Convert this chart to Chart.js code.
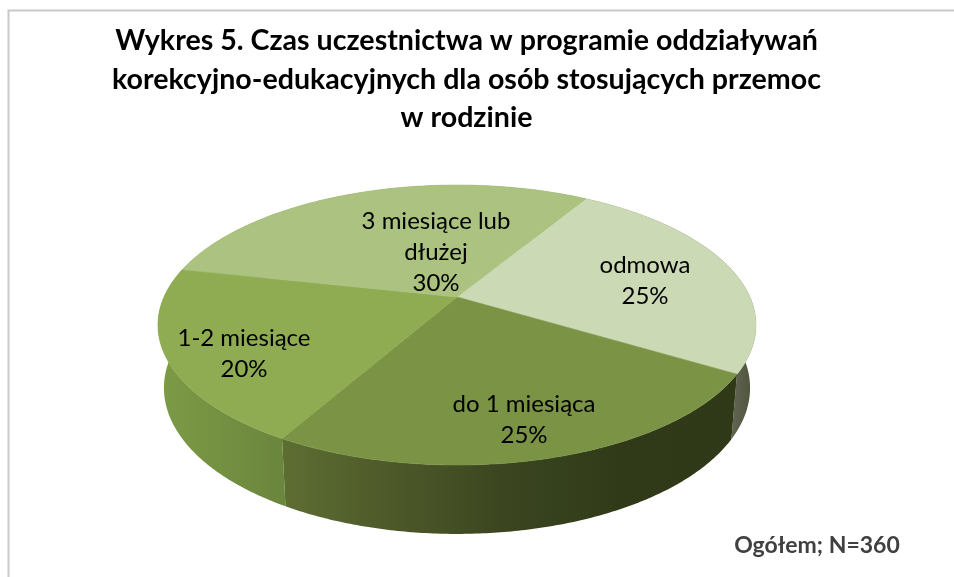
<!DOCTYPE html>
<html><head><meta charset="utf-8">
<style>html,body{margin:0;padding:0;background:#fff}canvas{display:block}</style>
<script src="https://cdn.jsdelivr.net/npm/chart.js@4"></script>
</head><body><canvas id="c" width="954" height="577"></canvas>
<script>
const categories = ['odmowa', 'do 1 miesiąca', '1-2 miesiące', '3 miesiące lub dłużej'];
const values = [25, 24.6, 20.2, 30.2];
const labelLines = [['odmowa'], ['do 1 miesiąca'], ['1-2 miesiące'], ['3 miesiące lub', 'dłużej']];
const labelAnchors = [[645, 265], [524, 404], [244, 338], [436, 221]];
const topColors = ['#cbd9b4', '#7a9344', '#8fac52', '#abc280'];
const wallStops = [
  ['#4c5138', '#636756'],
  ['#5d6e32', '#4d5829', '#3a4520', '#303a18', '#2f3918'],
  ['#7d9b46', '#6b863d'],
  ['#7d9b46', '#7d9b46']
];
const titleLines = ['Wykres 5. Czas uczestnictwa w programie oddziaływań',
  'korekcyjno-edukacyjnych dla osób stosujących przemoc', 'w rodzinie'];
const note = 'Ogółem; N=360';
const startDegrees = 31;

// perspective view of the pie disc
const view = { cx: 457, cy: 297, a: 293, b: 134.4, p: 0.2, lowerX: 0.98, lowerY: 1.043, lowerDrop: 61.7 };
function project(angle, sx, sy, dy) {
  const u = Math.cos(angle), v = Math.sin(angle), w = 1 - view.p * v;
  return [view.cx + sx * view.a * u / w, view.cy + dy + sy * view.b * v / w];
}
function edge(ctx, from, to, sx, sy, dy) {
  const n = Math.max(2, Math.ceil(Math.abs(to - from) / 0.01));
  for (let i = 0; i <= n; i++) {
    const p = project(from + (to - from) * i / n, sx, sy, dy);
    ctx.lineTo(p[0], p[1]);
  }
}
const pie3d = {
  id: 'pie3d',
  beforeDraw(chart) {
    const ctx = chart.ctx;
    ctx.save();
    ctx.strokeStyle = '#c9c9c9';
    ctx.lineWidth = 2;
    ctx.beginPath();
    ctx.moveTo(8.5, 577); ctx.lineTo(8.5, 10.5); ctx.lineTo(954, 10.5);
    ctx.stroke();
    ctx.restore();
  },
  beforeDatasetDraw(chart, args) {
    const ctx = chart.ctx;
    const arcs = chart.getDatasetMeta(args.index).data;
    ctx.save();
    // side wall, furthest parts first
    [3, 0, 2, 1].forEach(i => {
      const s = arcs[i].startAngle, e = arcs[i].endAngle;
      const xs = [];
      for (let k = 0; k <= 100; k++) {
        const t = s + (e - s) * k / 100;
        if (Math.sin(t) > -0.25) xs.push(project(t, 1, 1, 0)[0]);
      }
      const g = ctx.createLinearGradient(Math.min(...xs), 0, Math.max(...xs), 0);
      const stops = wallStops[i];
      const ordered = i === 0 ? stops.slice().reverse() : stops;
      ordered.forEach((c, k) => g.addColorStop(k / (ordered.length - 1), c));
      ctx.fillStyle = g;
      ctx.beginPath();
      edge(ctx, s, e, 1, 1, 0);
      edge(ctx, e, s, view.lowerX, view.lowerY, view.lowerDrop);
      ctx.closePath();
      ctx.fill();
    });
    // top face
    arcs.forEach((arc, i) => {
      ctx.fillStyle = ctx.strokeStyle = arc.options.backgroundColor;
      ctx.lineWidth = 0.6;
      ctx.beginPath();
      ctx.moveTo(view.cx, view.cy);
      edge(ctx, arc.startAngle, arc.endAngle, 1, 1, 0);
      ctx.closePath();
      ctx.fill();
      ctx.stroke();
    });
    ctx.restore();
    return false;
  },
  afterDraw(chart) {
    const ctx = chart.ctx;
    const total = values.reduce((a, b) => a + b, 0);
    ctx.save();
    ctx.textAlign = 'center';
    ctx.textBaseline = 'middle';
    ctx.fillStyle = '#000';
    ctx.font = '24px Lato';
    labelLines.forEach((lines, i) => {
      const all = lines.concat([Math.round(values[i] / total * 100) + '%']);
      all.forEach((t, k) => ctx.fillText(t, labelAnchors[i][0], labelAnchors[i][1] + k * 31));
    });
    ctx.fillStyle = '#404040';
    ctx.font = 'bold 23px Lato';
    ctx.fillText(note, 817, 546);
    ctx.restore();
  }
};
new Chart(document.getElementById('c'), {
  type: 'pie',
  data: { labels: categories, datasets: [{ data: values, backgroundColor: topColors, borderWidth: 0 }] },
  plugins: [pie3d],
  options: {
    responsive: false,
    animation: false,
    rotation: startDegrees,
    layout: { padding: { right: 21 } },
    plugins: {
      legend: { display: false },
      tooltip: { enabled: false },
      title: {
        display: true,
        text: titleLines,
        color: '#000',
        font: { family: 'Lato', size: 28.6, weight: 'bold', lineHeight: 1.346 },
        padding: { top: 22, bottom: 0 }
      }
    }
  }
});
</script></body></html>
